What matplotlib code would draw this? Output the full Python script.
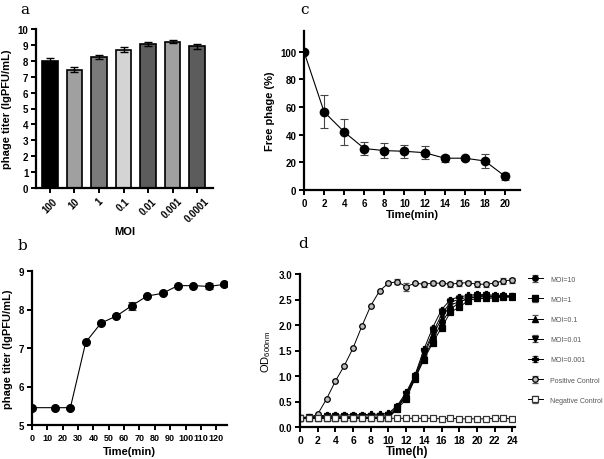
import numpy as np
import matplotlib
matplotlib.use("Agg")
import matplotlib.pyplot as plt

plt.rcParams['font.family'] = ['Liberation Sans', 'DejaVu Sans']
plt.rcParams['font.weight'] = 'bold'
plt.rcParams['axes.labelweight'] = 'bold'

# panel a
moi_labels = ['100', '10', '1', '0.1', '0.01', '0.001', '0.0001']
moi_titer = [8.0, 7.45, 8.25, 8.7, 9.05, 9.2, 8.9]
moi_err = [0.15, 0.15, 0.12, 0.15, 0.12, 0.08, 0.15]
bar_colors = ['#000000', '#a0a0a0', '#7a7a7a', '#d4d4d4', '#5c5c5c', '#a0a0a0', '#5c5c5c']

# panel b
b_time = [0, 15, 25, 35, 45, 55, 65, 75, 85, 95, 105, 115, 125]
b_titer = [5.45, 5.45, 5.45, 7.15, 7.65, 7.83, 8.1, 8.35, 8.42, 8.62, 8.62, 8.6, 8.65]
b_err = [0, 0, 0, 0, 0.02, 0.02, 0.1, 0.03, 0.03, 0.02, 0.02, 0.08, 0.03]

# panel c
c_time = [0, 2, 4, 6, 8, 10, 12, 14, 16, 18, 20]
c_free = [100, 56.5, 42, 30, 28.5, 28, 27, 23, 23, 21, 10]
c_err = [0, 12, 9.5, 5, 5.5, 4.5, 4.5, 2.5, 1, 5, 2.5]

# panel d
d_time = list(range(25))
moi10 = [0.18, 0.18, 0.18, 0.18, 0.18, 0.18, 0.18, 0.18, 0.18, 0.18, 0.19, 0.38, 0.6, 0.95, 1.35, 1.7, 2.05, 2.3, 2.45, 2.52, 2.55, 2.56, 2.55, 2.56, 2.55]
moi1 = [0.17, 0.17, 0.17, 0.17, 0.17, 0.17, 0.17, 0.17, 0.17, 0.17, 0.18, 0.35, 0.55, 0.95, 1.32, 1.65, 1.95, 2.25, 2.35, 2.48, 2.52, 2.52, 2.53, 2.55, 2.54]
moi01 = [0.18, 0.18, 0.19, 0.19, 0.19, 0.19, 0.19, 0.19, 0.19, 0.19, 0.2, 0.38, 0.62, 0.98, 1.4, 1.8, 2.12, 2.4, 2.45, 2.52, 2.55, 2.55, 2.55, 2.56, 2.56]
moi001 = [0.18, 0.19, 0.2, 0.21, 0.21, 0.21, 0.21, 0.22, 0.22, 0.22, 0.24, 0.4, 0.65, 1.0, 1.45, 1.85, 2.2, 2.45, 2.5, 2.55, 2.58, 2.58, 2.56, 2.57, 2.56]
moi0001 = [0.18, 0.2, 0.22, 0.23, 0.23, 0.24, 0.24, 0.24, 0.25, 0.25, 0.27, 0.42, 0.68, 1.02, 1.52, 1.95, 2.3, 2.5, 2.55, 2.58, 2.6, 2.6, 2.58, 2.58, 2.57]
pos_ctrl = [0.18, 0.18, 0.25, 0.55, 0.9, 1.2, 1.55, 1.98, 2.38, 2.67, 2.82, 2.85, 2.75, 2.82, 2.8, 2.82, 2.82, 2.8, 2.82, 2.83, 2.8, 2.8, 2.82, 2.87, 2.88]
pos_err = [0, 0, 0, 0, 0, 0, 0, 0, 0, 0, 0.02, 0.05, 0.08, 0.02, 0.05, 0.04, 0.02, 0.05, 0.06, 0.03, 0.06, 0.05, 0.02, 0.06, 0.05]
neg_ctrl = [0.17, 0.17, 0.17, 0.17, 0.17, 0.17, 0.17, 0.17, 0.17, 0.17, 0.17, 0.17, 0.17, 0.17, 0.17, 0.17, 0.16, 0.17, 0.16, 0.16, 0.16, 0.16, 0.17, 0.17, 0.16]
moi_err_d = [0.03] * 25


W, H = 604, 460
fig = plt.figure(figsize=(W / 100, H / 100), dpi=100)

def add_ax(l, r, t, b):
    return fig.add_axes([l / W, 1 - b / H, (r - l) / W, (b - t) / H])

def style(ax):
    for s in ['top', 'right']:
        ax.spines[s].set_visible(False)
    for s in ['left', 'bottom']:
        ax.spines[s].set_linewidth(1.6)
    ax.tick_params(width=1.4, length=3.5, labelsize=7, pad=2)

panel_font = dict(family='DejaVu Serif', fontsize=11, fontweight='normal')

#a
ax = add_ax(36, 213, 30, 189)
x = np.arange(len(moi_labels))
ax.bar(x, moi_titer, width=0.64, color=bar_colors, edgecolor='black', linewidth=1.2,
       yerr=moi_err, error_kw=dict(ecolor='black', elinewidth=1, capsize=3, capthick=1))
ax.set_xlim(-0.57, 6.65)
ax.set_ylim(0, 10)
ax.set_yticks(range(11))
ax.set_xticks(x)
ax.set_xticklabels(moi_labels, rotation=45, ha='center', fontsize=7)
ax.set_xlabel('MOI', fontsize=8, labelpad=2)
ax.set_ylabel('phage titer (lgPFU/mL)', fontsize=8)
style(ax)
fig.text(20 / W, 1 - 10 / H, 'a', **panel_font, va='center')

#c
ax = add_ax(304, 520, 32, 191)
ax.errorbar(c_time, c_free, yerr=c_err, color='black', marker='o', markersize=6,
            linewidth=0.8, elinewidth=0.8, capsize=3, capthick=0.8, ecolor='#444444')
ax.set_xlim(0, 21.5)
ax.set_ylim(0, 115)
ax.set_xticks(range(0, 21, 2))
ax.set_yticks(range(0, 101, 20))
ax.set_xlabel('Time(min)', fontsize=8, labelpad=1)
ax.set_ylabel('Free phage (%)', fontsize=8)
style(ax)
fig.text(300 / W, 1 - 10 / H, 'c', **panel_font, va='center')

#b
ax = add_ax(32, 227, 272, 426)
ax.errorbar(b_time, b_titer, yerr=b_err, color='black', marker='o', markersize=5.5,
            linewidth=0.8, elinewidth=0.8, capsize=3, capthick=0.8, ecolor='#444444')
ax.set_xlim(0, 127)
ax.set_ylim(5, 9)
ax.set_xticks(range(0, 121, 10))
ax.set_yticks(range(5, 10))
ax.set_xlabel('Time(min)', fontsize=8, labelpad=3)
ax.set_ylabel('phage titer (lgPFU/mL)', fontsize=8)
style(ax)
ax.tick_params(axis='x', labelsize=6.5)
fig.text(18 / W, 1 - 246 / H, 'b', **panel_font, va='center')

#d
ax = add_ax(300, 515, 275, 428)
series = [
    (moi10, 'MOI=10', 'o', 'black', 'black', moi_err_d),
    (moi1, 'MOI=1', 's', 'black', 'black', moi_err_d),
    (moi01, 'MOI=0.1', '^', 'black', 'black', moi_err_d),
    (moi001, 'MOI=0.01', 'v', 'black', 'black', moi_err_d),
    (moi0001, 'MOI=0.001', 'P', 'black', 'black', moi_err_d),
    (pos_ctrl, 'Positive Control', 'o', '#bbbbbb', 'black', pos_err),
    (neg_ctrl, 'Negative Control', 's', 'white', '#333333', moi_err_d),
]
for vals, lab, mk, fc, ec, err in series:
    ax.errorbar(d_time, vals, yerr=err, label=lab, color='black', marker=mk,
                markersize=4, markerfacecolor=fc, markeredgecolor=ec, markeredgewidth=0.9,
                linewidth=0.7, elinewidth=0.7, capsize=2, capthick=0.7, ecolor='#555555')
ax.set_xlim(0, 24.3)
ax.set_ylim(0, 3.0)
ax.set_xticks(range(0, 25, 2))
ax.set_yticks(np.arange(0, 3.01, 0.5))
ax.set_yticklabels(['%.1f' % v for v in np.arange(0, 3.01, 0.5)])
ax.set_xlabel('Time(h)', fontsize=8.5, labelpad=0)
ax.set_ylabel('OD$_{\\mathregular{600nm}}$', fontsize=8, fontweight='normal')
style(ax)
ax.tick_params(axis='x', labelsize=7.5)
leg = ax.legend(loc='upper left', bbox_to_anchor=(1.03, 1.03), frameon=False,
                prop=dict(size=5, weight='normal'), labelspacing=1.9, handlelength=2.2,
                handletextpad=1.0)
for t in leg.get_texts():
    t.set_color('#555555')
fig.text(298 / W, 1 - 244 / H, 'd', **panel_font, va='center')

fig.savefig('out.png', dpi=100)
